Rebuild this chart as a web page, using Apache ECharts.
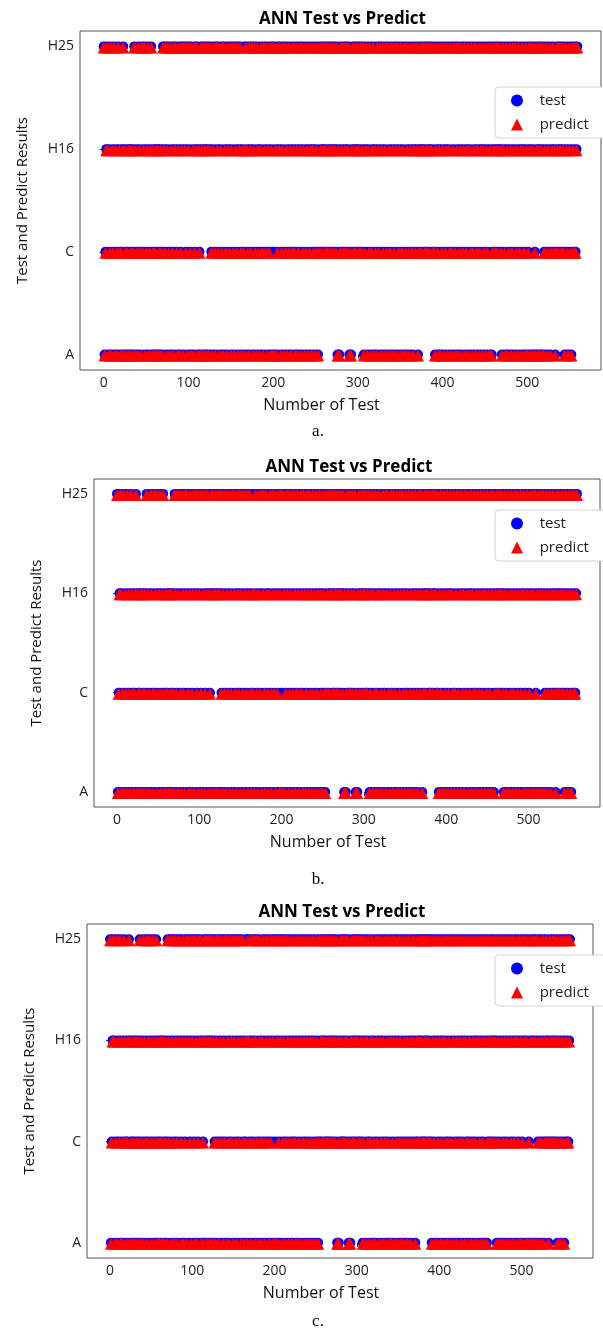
<!DOCTYPE html>
<html>
<head>
<meta charset="utf-8">
<title>ANN Test vs Predict</title>
<script src="https://cdn.jsdelivr.net/npm/echarts@6/dist/echarts.min.js"></script>
<style>
    html, body { margin: 0; padding: 0; background: #fff; }
    #main { width: 603px; height: 1332px; }
</style>
</head>
<body>
<div id="main"></div>
<script>
var categories = ['A', 'C', 'H16', 'H25'];
var xTicks = [0, 100, 200, 300, 400, 500];
var codeMap = { a: 'A', c: 'C', h: 'H16', g: 'H25' };
// class of each test sample, one letter per sample index (a=A, c=C, h=H16, g=H25)
var testCodes = [
    'gachghacgahcgahcaghcachgahcachahcahcgahc',
    'aghcagchgachgachgachachahcahcaghcgahgcag',
    'hcaghgcahgachgaghcgahgcaghacghgahcaghgah',
    'gahgahgcahgcaghcgahcgaghcaghcgahgcaghcga',
    'hgcahcgaghcaghcgahgcaghcahgcaghcgahcgahg',
    'caghacghgachgacghacghacghcaghacghagchagc',
    'hagchaghcaghcagchgchghcgchgchgchghcgahac',
    'ghcgchgchgacahgchgchghcgchgachgahcgachga',
    'hcaghcgahgcahgcaghcaghacghagchagchagcahg',
    'cahgcahgchgachgchghcgchgchghcgcahgcahgac',
    'hgachgahcgachgacghagchagchgachgahcgachga',
    'chgachgahcgahcgahgachgchgchghcaghcaghacg',
    'hacghagchagchaghcaghacghaghagcahgahgahga',
    'chgachgachgchacghcghcghcaghcaghcaghcgchg'
];
// samples whose predicted class differs from the test class
var wrongIndex = [166, 200];
var wrongPredict = ['H16', 'A'];
var panelNames = ['a.', 'b.', 'c.'];

var panels = [
    { left: 80, top: 31, width: 521, height: 339, legendTop: 87 },
    { left: 94, top: 479, width: 506, height: 328, legendTop: 510 },
    { left: 87, top: 924, width: 506, height: 334, legendTop: 955 }
];

function buildData() {
    var seq = testCodes.join('');
    var test = [], predict = [];
    for (var i = 0; i < seq.length; i++) {
        var cat = codeMap[seq.charAt(i)];
        test.push([i, categories.indexOf(cat)]);
        var k = wrongIndex.indexOf(i);
        var p = k >= 0 ? wrongPredict[k] : cat;
        predict.push([i, categories.indexOf(p)]);
    }
    return { test: test, predict: predict };
}

var chart = echarts.init(document.getElementById('main'));
var d = buildData();
var labelFont = '"Open Sans", "DejaVu Sans", sans-serif';
var option = {
    backgroundColor: '#fff',
    animation: false,
    title: [], grid: [], xAxis: [], yAxis: [], series: [], legend: [], graphic: []
};

panels.forEach(function (p, i) {
    option.grid.push({
        left: p.left, top: p.top, width: p.width, height: p.height,
        show: true, borderColor: '#555', borderWidth: 1, backgroundColor: 'transparent'
    });
    option.title.push({
        text: 'ANN Test vs Predict',
        left: p.left + p.width / 2 - 3, top: p.top - 25, textAlign: 'center',
        textStyle: { fontFamily: labelFont, fontWeight: 'bold', fontSize: 17, color: '#000' }
    });
    option.xAxis.push({
        gridIndex: i, type: 'value', min: -28, max: 587,
        name: 'Number of Test', nameLocation: 'middle', nameGap: 27,
        nameTextStyle: { fontFamily: labelFont, fontSize: 16, color: '#111', padding: [0, 38, 0, 0] },
        axisLine: { show: false },
        axisTick: { show: true, customValues: xTicks, length: 4, lineStyle: { color: '#333' } },
        axisLabel: { customValues: xTicks, fontFamily: labelFont, fontSize: 14, color: '#222', margin: 6 },
        splitLine: { show: false }
    });
    option.yAxis.push({
        gridIndex: i, type: 'value', min: -0.15, max: 3.15,
        name: 'Test and Predict Results', nameLocation: 'middle', nameRotate: 90, nameGap: 50,
        nameTextStyle: { fontFamily: labelFont, fontSize: 15, color: '#111' },
        axisLine: { show: false },
        axisTick: { show: true, customValues: [0, 1, 2, 3], length: 4, lineStyle: { color: '#333' } },
        axisLabel: {
            customValues: [0, 1, 2, 3], fontFamily: labelFont, fontSize: 14, color: '#222', margin: 6,
            formatter: function (v) { return categories[Math.round(v)]; }
        },
        splitLine: { show: false }
    });
    option.series.push({
        name: 'test', type: 'scatter', xAxisIndex: i, yAxisIndex: i,
        symbol: 'circle', symbolSize: 10,
        itemStyle: { color: '#0000ff', opacity: 1 },
        data: d.test
    });
    option.series.push({
        name: 'predict', type: 'scatter', xAxisIndex: i, yAxisIndex: i,
        symbol: 'triangle', symbolSize: [12, 12], symbolOffset: [0, 1],
        itemStyle: { color: '#ff0000', opacity: 1 },
        data: d.predict
    });
    option.legend.push({
        orient: 'vertical', left: 495, top: p.legendTop,
        data: [{ name: 'test', icon: 'circle' }, { name: 'predict', icon: 'triangle' }],
        itemWidth: 12, itemHeight: 12, itemGap: 9,
        padding: [6, 30, 6, 16], borderColor: '#d4d4d4', borderWidth: 1, borderRadius: 4,
        backgroundColor: '#fff',
        formatter: function (n) { return '   ' + n; },
        textStyle: { fontFamily: labelFont, fontSize: 15, color: '#222' }
    });
});

var captionY = [432, 880, 1322];
panelNames.forEach(function (n, i) {
    option.graphic.push({
        type: 'text', x: 318, y: captionY[i],
        style: { text: n, font: '17px "Liberation Serif", serif', fill: '#000', align: 'center', verticalAlign: 'middle' }
    });
});

chart.setOption(option);
</script>
</body>
</html>
